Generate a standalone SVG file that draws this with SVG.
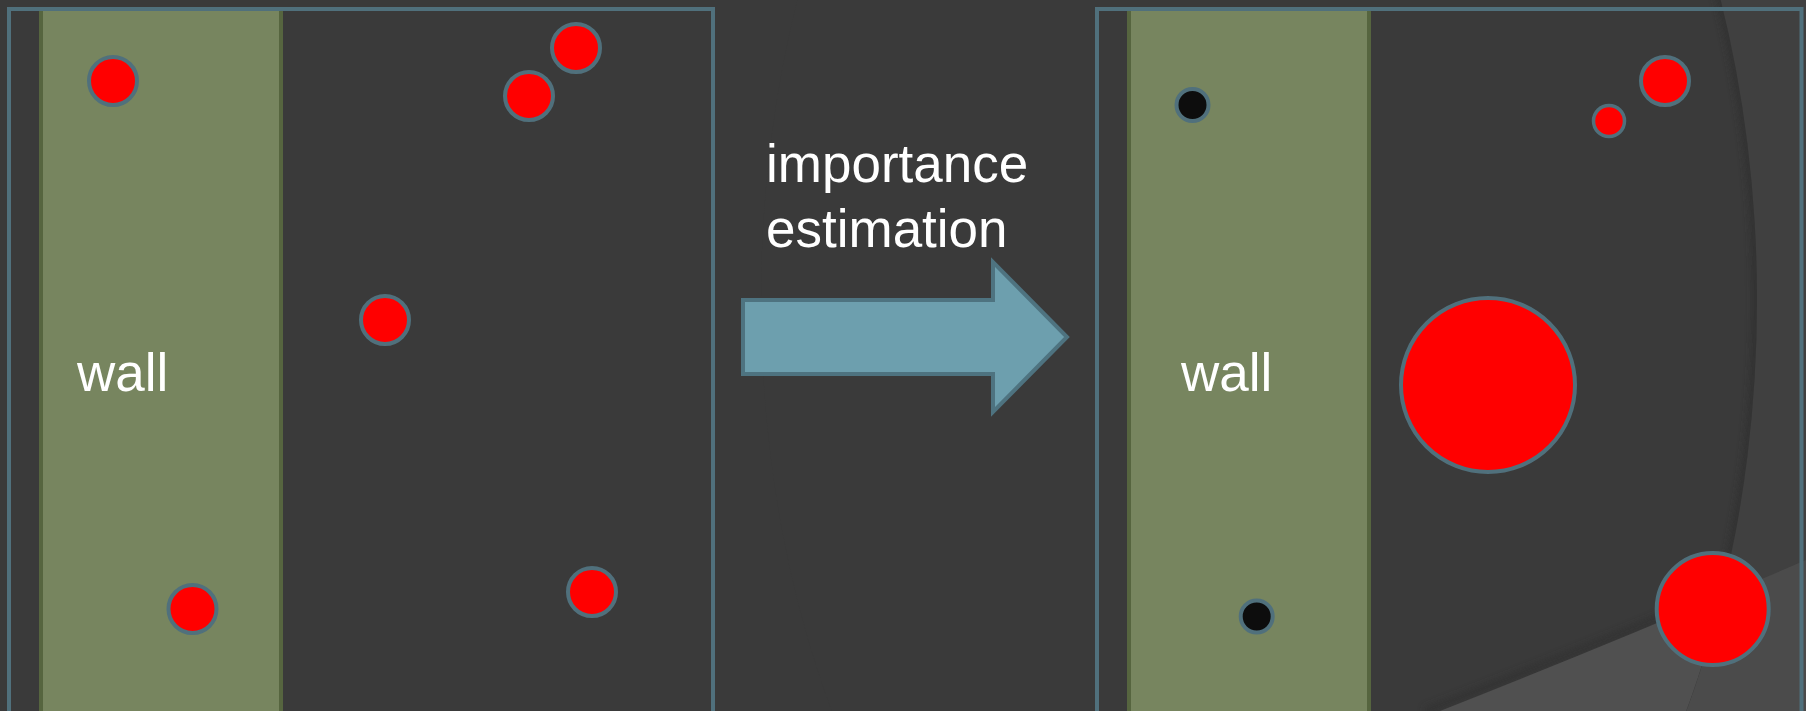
<svg xmlns="http://www.w3.org/2000/svg" width="1806" height="711" viewBox="0 0 1806 711">
<style>
.frame{fill:none;stroke:#50707c;stroke-width:4}
.wall{fill:#77855f;stroke:#56653f;stroke-width:4}
.red{fill:#ff0000;stroke:#50707c;stroke-width:4}
.blk{fill:#0d0d0d;stroke:#50707c;stroke-width:4}
.lbl{font-family:"Liberation Sans",Arial,sans-serif;font-size:53px;fill:#ffffff}
</style>
<defs>
<clipPath id="ellClip"><ellipse cx="1259" cy="300" rx="498" ry="800"/></clipPath>
<clipPath id="rightClip"><rect x="1600" y="0" width="206" height="711"/></clipPath>
<filter id="blur" x="-10%" y="-10%" width="120%" height="120%"><feGaussianBlur stdDeviation="3"/></filter>
</defs>
<g id="background">
<rect x="0" y="0" width="1806" height="711" fill="#3a3a3a"/>
<rect x="1650" y="0" width="156" height="711" fill="#404040"/>
<path d="M1440,711 Q1620,640 1806,560 V711 Z" fill="#4b4b4b"/>
<ellipse cx="1259" cy="300" rx="498" ry="800" fill="#3a3a3a"/>
<g clip-path="url(#ellClip)">
<g clip-path="url(#rightClip)">
<ellipse cx="1259" cy="300" rx="498" ry="800" fill="none" stroke="#2e2e2e" stroke-width="10" opacity="0.6" filter="url(#blur)"/>
</g>
<path d="M1425,711 Q1620,636 1806,556" fill="none" stroke="#2e2e2e" stroke-width="8" opacity="0.5" filter="url(#blur)"/>
<path d="M1440,711 Q1620,640 1806,560 V711 Z" fill="#505050"/>
</g>
</g>
<g id="left-panel">
<rect id="left-wall" class="wall" x="41" y="9" width="240" height="720"/>
<rect id="left-frame" class="frame" x="9" y="9" width="704" height="720"/>
<text id="left-wall-label" class="lbl" x="77" y="391">wall</text>
<g id="left-particles">
<circle class="red" cx="113" cy="81" r="24"/>
<circle class="red" cx="529" cy="96" r="24"/>
<circle class="red" cx="576" cy="48" r="24"/>
<circle class="red" cx="385" cy="320" r="24"/>
<circle class="red" cx="192.5" cy="609" r="24"/>
<circle class="red" cx="592" cy="592" r="24"/>
</g>
</g>
<g id="connectors">
<path id="arrow" d="M743,300 H993 V262 L1067,337 L993,412 V374 H743 Z" fill="#6d9fae" stroke="#4e7380" stroke-width="4" stroke-linejoin="miter"/>
<text class="lbl" x="766" y="182">importance</text>
<text class="lbl" x="766" y="247">estimation</text>
</g>
<g id="right-panel">
<rect id="right-wall" class="wall" x="1129" y="9" width="240" height="720"/>
<rect id="right-frame" class="frame" x="1097" y="9" width="704.5" height="720"/>
<text id="right-wall-label" class="lbl" x="1181" y="391">wall</text>
<g id="right-particles">
<circle class="blk" cx="1192.5" cy="105" r="16"/>
<circle class="blk" cx="1256.7" cy="616.5" r="16"/>
<circle class="red" cx="1609" cy="121" r="15.5" style="stroke-width:3.5"/>
<circle class="red" cx="1665" cy="81" r="24"/>
<circle class="red" cx="1488" cy="385" r="87"/>
<circle class="red" cx="1712.7" cy="609" r="56"/>
</g>
</g>
</svg>
